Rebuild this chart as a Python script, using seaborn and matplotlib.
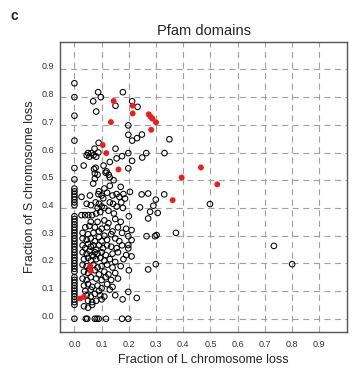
import matplotlib
matplotlib.use("Agg")
import matplotlib.pyplot as plt
import pandas as pd
import seaborn as sns

# domains with no L chromosome loss (stacked on x = 0)
s_loss_at_zero = [0.85, 0.80, 0.733, 0.643, 0.544, 0.503, 0.47, 0.46, 0.45, 0.44,
                  0.43, 0.42, 0.41, 0.37, 0.36, 0.35, 0.34, 0.33, 0.32, 0.31, 0.30,
                  0.29, 0.28, 0.27, 0.26, 0.25, 0.24, 0.23, 0.22, 0.21, 0.20, 0.19,
                  0.18, 0.17, 0.15, 0.14, 0.13, 0.12, 0.11, 0.10, 0.09, 0.08, 0.07,
                  0.06, 0.05, 0.0]

# other domains as (L loss, S loss)
upper_pts = [(0.087, 0.818), (0.178, 0.818), (0.069, 0.785), (0.097, 0.80), (0.212, 0.785),
             (0.151, 0.769), (0.232, 0.765), (0.08, 0.748), (0.198, 0.698), (0.198, 0.664),
             (0.248, 0.665), (0.23, 0.652), (0.212, 0.643), (0.349, 0.648), (0.089, 0.635),
             (0.151, 0.614), (0.074, 0.614), (0.05, 0.598), (0.062, 0.598), (0.07, 0.59),
             (0.08, 0.585), (0.045, 0.59), (0.055, 0.585), (0.088, 0.60), (0.198, 0.598),
             (0.264, 0.598), (0.331, 0.598), (0.175, 0.587), (0.155, 0.579), (0.249, 0.582),
             (0.212, 0.57), (0.13, 0.566), (0.107, 0.553), (0.034, 0.553), (0.072, 0.54),
             (0.078, 0.545), (0.198, 0.543), (0.085, 0.52), (0.115, 0.527), (0.126, 0.52),
             (0.075, 0.525), (0.118, 0.532), (0.13, 0.51), (0.144, 0.50)]

middle_pts = [(0.075, 0.506), (0.069, 0.488), (0.17, 0.476), (0.204, 0.458), (0.247, 0.449),
              (0.271, 0.452), (0.33, 0.449), (0.13, 0.48), (0.11, 0.47), (0.09, 0.46),
              (0.12, 0.455), (0.186, 0.434), (0.026, 0.44), (0.057, 0.445), (0.088, 0.45),
              (0.1, 0.445), (0.106, 0.435), (0.14, 0.445), (0.155, 0.45), (0.165, 0.44),
              (0.18, 0.45), (0.299, 0.43), (0.045, 0.415), (0.06, 0.41), (0.078, 0.42),
              (0.09, 0.415), (0.1, 0.405), (0.13, 0.42), (0.142, 0.415), (0.155, 0.405),
              (0.172, 0.42), (0.178, 0.40), (0.241, 0.402), (0.29, 0.408), (0.11, 0.40),
              (0.085, 0.40), (0.278, 0.386), (0.306, 0.382), (0.271, 0.362), (0.026, 0.374),
              (0.039, 0.374), (0.051, 0.374), (0.065, 0.374), (0.08, 0.38), (0.095, 0.385),
              (0.125, 0.39), (0.145, 0.38), (0.06, 0.35), (0.085, 0.35), (0.11, 0.355),
              (0.125, 0.345), (0.15, 0.36), (0.17, 0.35), (0.2, 0.37), (0.04, 0.33),
              (0.055, 0.335), (0.075, 0.33), (0.1, 0.325), (0.12, 0.33), (0.14, 0.315),
              (0.19, 0.325), (0.16, 0.33), (0.03, 0.31), (0.05, 0.305), (0.07, 0.31),
              (0.09, 0.315), (0.11, 0.30), (0.135, 0.305), (0.175, 0.31), (0.21, 0.32),
              (0.373, 0.31), (0.198, 0.298), (0.265, 0.298), (0.296, 0.298), (0.302, 0.302)]

lower_pts = [(0.03, 0.29), (0.045, 0.285), (0.06, 0.29), (0.075, 0.28), (0.09, 0.295),
             (0.1, 0.28), (0.12, 0.285), (0.15, 0.29), (0.165, 0.28), (0.21, 0.284),
             (0.03, 0.265), (0.04, 0.255), (0.05, 0.27), (0.06, 0.26), (0.07, 0.265),
             (0.08, 0.25), (0.09, 0.265), (0.105, 0.255), (0.12, 0.265), (0.135, 0.26),
             (0.155, 0.255), (0.175, 0.265), (0.198, 0.266), (0.198, 0.254), (0.03, 0.24),
             (0.045, 0.235), (0.055, 0.245), (0.065, 0.23), (0.075, 0.24), (0.085, 0.235),
             (0.1, 0.24), (0.115, 0.23), (0.14, 0.235), (0.16, 0.24), (0.19, 0.23),
             (0.035, 0.215), (0.05, 0.22), (0.06, 0.21), (0.07, 0.225), (0.08, 0.215),
             (0.095, 0.22), (0.11, 0.21), (0.13, 0.215), (0.15, 0.205), (0.18, 0.215),
             (0.21, 0.225), (0.03, 0.195), (0.045, 0.19), (0.055, 0.18), (0.07, 0.195),
             (0.085, 0.185), (0.1, 0.19), (0.12, 0.195), (0.14, 0.185), (0.17, 0.19),
             (0.035, 0.17), (0.05, 0.165), (0.075, 0.175), (0.09, 0.16), (0.11, 0.17),
             (0.125, 0.16), (0.15, 0.165), (0.2, 0.175), (0.271, 0.178), (0.299, 0.197),
             (0.03, 0.145), (0.045, 0.14), (0.06, 0.15), (0.08, 0.145), (0.1, 0.14),
             (0.115, 0.15), (0.135, 0.14), (0.16, 0.145), (0.035, 0.12), (0.05, 0.125),
             (0.065, 0.115), (0.085, 0.12), (0.1, 0.11), (0.12, 0.125), (0.14, 0.115),
             (0.13, 0.105)]

bottom_pts = [(0.04, 0.10), (0.06, 0.105), (0.09, 0.1), (0.198, 0.097), (0.045, 0.085),
              (0.06, 0.08), (0.075, 0.09), (0.095, 0.085), (0.11, 0.08), (0.15, 0.085),
              (0.05, 0.065), (0.065, 0.06), (0.08, 0.065), (0.1, 0.07), (0.177, 0.07),
              (0.229, 0.075), (0.035, 0.045), (0.05, 0.04), (0.065, 0.05), (0.042, 0.0),
              (0.047, 0.0), (0.075, 0.0), (0.082, 0.0), (0.089, 0.0), (0.116, 0.0),
              (0.175, 0.0), (0.198, 0.0)]

outlier_pts = [(0.498, 0.414), (0.733, 0.263), (0.80, 0.197)]

# highlighted domains (red)
l_loss_red = [0.465, 0.394, 0.525, 0.361, 0.144, 0.214, 0.214, 0.134, 0.273, 0.28,
              0.287, 0.30, 0.282, 0.104, 0.117, 0.162, 0.058, 0.060, 0.021, 0.035]
s_loss_red = [0.546, 0.51, 0.485, 0.428, 0.786, 0.769, 0.741, 0.71, 0.738, 0.729,
              0.722, 0.709, 0.682, 0.627, 0.598, 0.539, 0.19, 0.172, 0.073, 0.079]

ticks = [0.0, 0.1, 0.2, 0.3, 0.4, 0.5, 0.6, 0.7, 0.8, 0.9]
tick_labels = ["0.0", "0.1", "0.2", "0.3", "0.4", "0.5", "0.6", "0.7", "0.8", "0.9"]

pairs = upper_pts + middle_pts + lower_pts + bottom_pts + outlier_pts
df = pd.DataFrame({
    "L": [0.0] * len(s_loss_at_zero) + [p[0] for p in pairs],
    "S": s_loss_at_zero + [p[1] for p in pairs],
})
red_df = pd.DataFrame({"L": l_loss_red, "S": s_loss_red})

sns.set_style("white")
plt.rcParams["font.family"] = ["Liberation Sans", "DejaVu Sans"]

fig = plt.figure(figsize=(3.54, 3.71), dpi=100)
ax = fig.add_axes([0.1695, 0.105, 0.811, 0.7825])

ax.set_axisbelow(True)
ax.grid(True, color="#a0a0a0", linestyle=(0, (5.5, 4)), linewidth=0.8)

sns.scatterplot(data=df, x="L", y="S", ax=ax, marker="o", s=16,
                facecolors="none", edgecolor="black", linewidth=0.75, zorder=3)
sns.scatterplot(data=red_df, x="L", y="S", ax=ax, marker="o", s=18,
                color="#ee1c1c", edgecolor="none", linewidth=0, zorder=4)

ax.set_xlim(-0.053, 1.002)
ax.set_ylim(-0.048, 1.0)
ax.set_xticks(ticks)
ax.set_xticklabels(tick_labels)
ax.set_yticks(ticks)
ax.set_yticklabels(tick_labels)
ax.tick_params(axis="x", length=0, pad=6, labelsize=6.5, labelcolor="#333333")
ax.tick_params(axis="y", length=3, width=0.7, color="#555555", pad=1,
               labelsize=6.5, labelcolor="#333333")
for lab in ax.get_yticklabels():
    lab.set_va("baseline")

for sp in ax.spines.values():
    sp.set_color("#555555")
    sp.set_linewidth(1.0)

ax.set_xlabel("Fraction of L chromosome loss", fontsize=9, labelpad=3)
ax.set_ylabel("Fraction of S chromosome loss", fontsize=9, labelpad=4)
ax.set_title("Pfam domains", fontsize=10.5, pad=5)
fig.text(0.03, 0.945, "c", fontsize=10, fontweight="bold")

plt.savefig("out.png", dpi=100)
